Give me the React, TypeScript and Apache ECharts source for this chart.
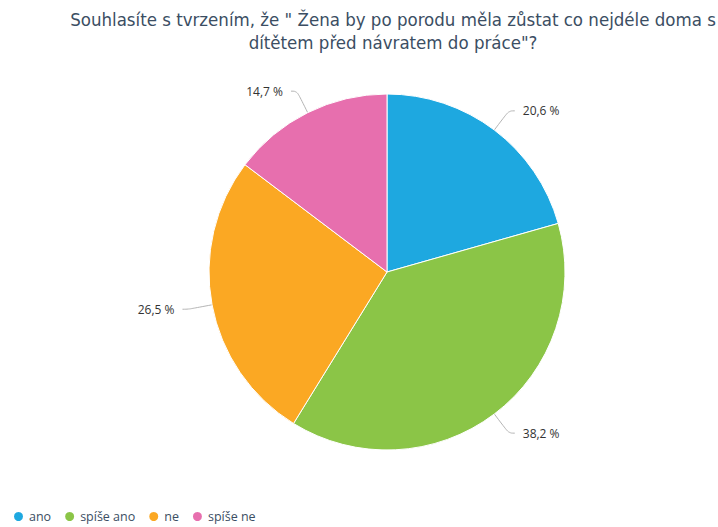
import React, { useEffect, useRef } from "react";
import * as echarts from "echarts";

const categories = ["ano", "spíše ano", "ne", "spíše ne"];
const values = [20.6, 38.2, 26.5, 14.7];
const colors = ["#1ea8e0", "#8bc547", "#fba823", "#e76fae"];
const titleText =
  'Souhlasíte s tvrzením, že " Žena by po porodu měla zůstat co nejdéle doma s\ndítětem před návratem do práce"?';

export default function App() {
  const ref = useRef<HTMLDivElement>(null);
  useEffect(() => {
    document.body.style.margin = "0";
    if (!ref.current) return;
    const chart = echarts.init(ref.current, undefined, { renderer: "svg" });
    chart.setOption({
      animation: false,
      title: {
        text: titleText,
        left: 388,
        textAlign: "center",
        top: 3,
        textStyle: {
          fontFamily: "DejaVu Sans Condensed",
          fontSize: 18.5,
          fontWeight: "normal",
          color: "#3b4e63",
          lineHeight: 23,
        },
      },
      legend: {
        left: 12,
        top: 510,
        padding: 0,
        icon: "circle",
        itemWidth: 11,
        itemHeight: 11,
        itemGap: 12,
        textStyle: { fontFamily: "Open Sans", fontSize: 12.5, color: "#3b4e63" },
        data: categories,
      },
      series: [
        {
          type: "pie",
          center: [387, 272],
          radius: 178,
          startAngle: 90,
          clockwise: true,
          data: categories.map((c, i) => ({
            name: c,
            value: values[i],
            itemStyle: { color: colors[i] },
          })),
          itemStyle: { borderColor: "#fff", borderWidth: 1 },
          label: {
            show: true,
            formatter: (p: any) => p.value.toFixed(1).replace(".", ",") + " %",
            fontFamily: "Open Sans",
            fontSize: 12,
            color: "#333",
            distanceToLabelLine: 8,
          },
          labelLine: {
            show: true,
            length: 24,
            length2: 6,
            smooth: 0.4,
            lineStyle: { color: "#b5b5b5", width: 1 },
          },
        },
      ],
    });
    return () => chart.dispose();
  }, []);
  return <div ref={ref} style={{ width: 718, height: 527 }} />;
}
